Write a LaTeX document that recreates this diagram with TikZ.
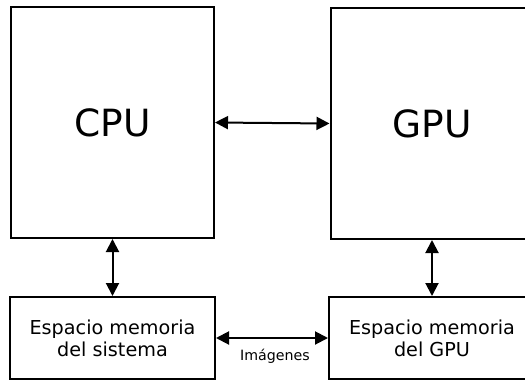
\documentclass[tikz,border=0pt]{standalone}
\usepackage{fontspec}
\setmainfont{DejaVu Sans}
\usetikzlibrary{arrows.meta}
\begin{document}
\begin{tikzpicture}[x=1pt,y=-1pt,
  unit/.style={draw=black, line width=2pt, rectangle, inner sep=0pt, align=center},
  bigunit/.style={unit, minimum width=203pt, minimum height=231pt, font=\fontsize{37.5}{42}\selectfont},
  memunit/.style={unit, minimum height=82pt, font=\fontsize{19.2}{22}\selectfont},
  link/.style={line width=2pt, {Triangle[length=13pt,width=13pt]}-{Triangle[length=13pt,width=13pt]}},
  linklabel/.style={font=\fontsize{14.2}{16}\selectfont, inner sep=0pt}]
\useasboundingbox (0,0) rectangle (525,381);
% processors
\node[bigunit] (cpu) at (112.5,122.5) {CPU};
\node[bigunit] (gpu) at (432,123.5) {GPU};
% memory spaces
\node[memunit, minimum width=205pt] (memsys) at (112.5,338) {Espacio memoria\\del sistema};
\node[memunit, minimum width=206pt] (memgpu) at (432,338) {Espacio memoria\\del GPU};
% connections
\draw[link] (cpu.east) -- (gpu.west);
\draw[link] (cpu.south) -- (memsys.north);
\draw[link] (gpu.south) -- (memgpu.north);
\draw[link] (memsys.east) -- (memgpu.west)
  node[linklabel, midway, below=10pt, xshift=3pt] (imgs) {Imágenes};
\end{tikzpicture}
\end{document}
